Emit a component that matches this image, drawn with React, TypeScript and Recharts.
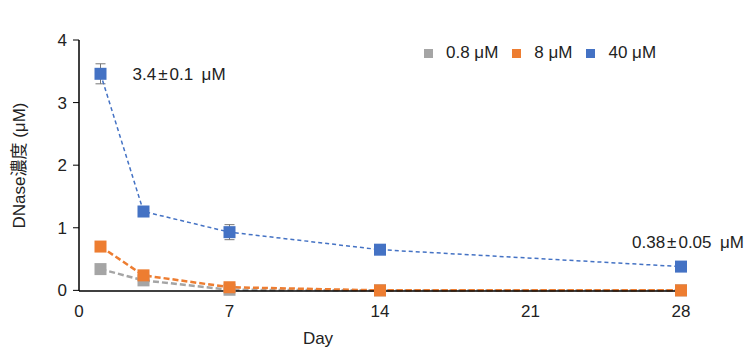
import { LineChart, Line, XAxis, YAxis, Legend, ErrorBar } from "recharts";

const days = [1, 3, 7, 14, 28];
const low = [0.34, 0.16, 0.01, 0, 0];
const lowErr = [0.07, 0.02, 0.01, 0, 0];
const mid = [0.7, 0.24, 0.05, 0, 0];
const midErr = [0.07, 0.03, 0.01, 0.01, 0];
const high = [3.46, 1.26, 0.93, 0.65, 0.38];
const highErr = [0.16, 0.08, 0.12, 0.03, 0.02];
const xTicks = [0, 7, 14, 21, 28];
const yTicks = [0, 1, 2, 3, 4];
const names = ["0.8 μM", "8 μM", "40 μM"];
const notes = [
  ["3.4", "0.1 μM"],
  ["0.38", "0.05 μM"],
];

const data = days.map((d, i) => ({
  day: d,
  low: low[i],
  lowErr: lowErr[i],
  mid: mid[i],
  midErr: midErr[i],
  high: high[i],
  highErr: highErr[i],
}));

const font = "'Liberation Sans', Arial, 'Noto Sans CJK JP', sans-serif";
const GRAY = "#A5A5A5";
const ORANGE = "#ED7D31";
const BLUE = "#4472C4";
const colors = [GRAY, ORANGE, BLUE];

const square = (color: string) => (p: any) => (
  <rect key={`${color}-${p.index}`} x={p.cx - 6} y={p.cy - 6} width={12} height={12} fill={color} />
);

const Note = ({ x, y, parts, anchor }: { x: number; y: number; parts: string[]; anchor?: string }) => (
  <text x={x} y={y} fontSize={17} fill="#222" fontFamily={font} textAnchor={anchor || "start"}>
    <tspan>{parts[0]}</tspan>
    <tspan dx={2}>±</tspan>
    <tspan dx={2}>{parts[1].replace(" ", "\u2002")}</tspan>
  </text>
);

const noteLabel = (p: any) => {
  if (p.index === 0) {
    return <Note key="n0" x={p.x + 32} y={p.y + 6} parts={notes[0]} />;
  }
  if (p.index === days.length - 1) {
    return <Note key="n1" x={p.x + 7} y={p.y - 19} parts={notes[1]} anchor="middle" />;
  }
  return null;
};

const legendContent = () => (
  <div style={{ display: "flex", alignItems: "center", fontFamily: font, fontSize: 17, color: "#222" }}>
    {names.map((n, i) => (
      <div key={n} style={{ display: "flex", alignItems: "center", marginRight: 14 }}>
        <span style={{ display: "inline-block", width: 9, height: 9, background: colors[i], marginRight: 13 }} />
        <span>{n}</span>
      </div>
    ))}
  </div>
);

export default function App() {
  return (
    <div style={{ position: "absolute", left: 0, top: 0, background: "#fff" }}>
      <LineChart width={748} height={349} data={data} margin={{ top: 20, right: 67, bottom: 0, left: 9 }}>
        <XAxis
          dataKey="day"
          type="number"
          domain={[0, 28]}
          ticks={xTicks}
          tickLine={false}
          axisLine={{ stroke: "#000", strokeWidth: 1.5 }}
          tick={{ fill: "#222", fontSize: 17, fontFamily: font }}
          tickMargin={8}
          height={58}
          label={{ value: "Day", position: "insideBottom", dx: -62, offset: 5, fill: "#222", fontSize: 17, fontFamily: font }}
        />
        <YAxis
          type="number"
          domain={[0, 4]}
          ticks={yTicks}
          width={70}
          tickSize={6}
          tickMargin={6}
          tickLine={{ stroke: "#000" }}
          axisLine={{ stroke: "#000", strokeWidth: 1.5 }}
          tick={{ fill: "#222", fontSize: 17, fontFamily: font }}
          label={{ value: "DNase濃度 (μM)", angle: -90, position: "insideLeft", offset: 10, fill: "#222", fontSize: 17, fontFamily: font, style: { textAnchor: "middle" } }}
        />
        <Legend
          verticalAlign="top"
          align="left"
          content={legendContent}
          wrapperStyle={{ top: 43, left: 424, width: 280 }}
        />
        <Line
          name={names[0]}
          dataKey="low"
          stroke={GRAY}
          strokeWidth={2.5}
          strokeDasharray="6 3"
          dot={square(GRAY)}
          isAnimationActive={false}
        >
          <ErrorBar dataKey="lowErr" stroke="#777" width={5} strokeWidth={1} />
        </Line>
        <Line
          name={names[1]}
          dataKey="mid"
          stroke={ORANGE}
          strokeWidth={2.5}
          strokeDasharray="6 3"
          dot={square(ORANGE)}
          isAnimationActive={false}
        >
          <ErrorBar dataKey="midErr" stroke="#777" width={5} strokeWidth={1} />
        </Line>
        <Line
          name={names[2]}
          dataKey="high"
          stroke={BLUE}
          strokeWidth={1.5}
          strokeDasharray="4 3"
          dot={square(BLUE)}
          label={noteLabel}
          isAnimationActive={false}
        >
          <ErrorBar dataKey="highErr" stroke="#777" width={5} strokeWidth={1} />
        </Line>
      </LineChart>
    </div>
  );
}
